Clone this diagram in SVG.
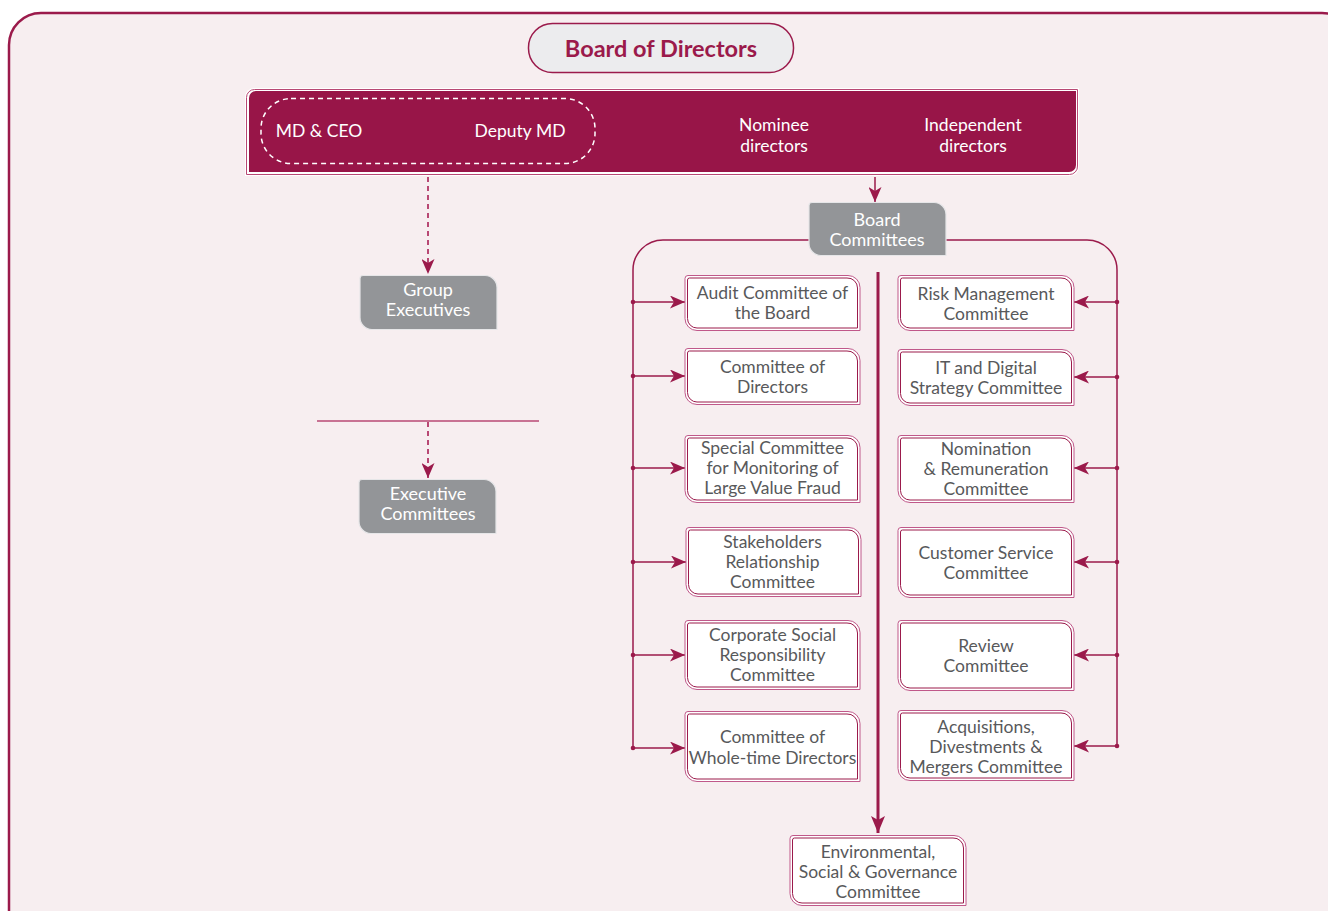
<svg xmlns="http://www.w3.org/2000/svg" width="1328" height="911" viewBox="0 0 1328 911">
<defs>
<style>
.frame{fill:#f7eef0;stroke:#9b1a4b;stroke-width:2.5}
.bx-o{fill:#fff;stroke:#c0588a;stroke-width:1}
.bx-i{fill:none;stroke:#9b1a4b;stroke-width:1}
.gb{fill:#939598;stroke:#e6e6e8;stroke-width:1.2}
.t{font-family:Lato,"Liberation Sans",sans-serif;font-size:17.5px;fill:#58595b;text-anchor:middle}
.tw{font-family:Lato,"Liberation Sans",sans-serif;font-size:17.5px;fill:#ffffff;text-anchor:middle}
.tg{font-family:Lato,"Liberation Sans",sans-serif;font-size:18px;fill:#ffffff;text-anchor:middle}
.tb{font-family:Lato,"Liberation Sans",sans-serif;font-size:23.5px;font-weight:bold;fill:#9b1a4b;text-anchor:middle}
.ln{fill:none;stroke:#9b1a4b;stroke-width:1.5}
.dash{fill:none;stroke:#b84874;stroke-width:2;stroke-dasharray:5 4}
.dot{fill:#9b1a4b}
</style>
<marker id="ah" viewBox="0 0 15 13" refX="15" refY="6.5" markerWidth="15" markerHeight="13" markerUnits="userSpaceOnUse" orient="auto">
<path d="M0,0 L15,6.5 L0,13 L4,6.5 Z" fill="#9b1a4b"/>
</marker>
<marker id="ahv" viewBox="0 0 17 14" refX="17" refY="7" markerWidth="17" markerHeight="14" markerUnits="userSpaceOnUse" orient="auto">
<path d="M0,0 L17,7 L0,14 L4,7 Z" fill="#9b1a4b"/>
</marker>
</defs>
<rect x="0" y="0" width="1328" height="911" fill="#ffffff"/>
<rect class="frame" x="9" y="13" width="1345" height="930" rx="32"/>

<g id="board">
<rect x="528.5" y="23.5" width="265" height="49" rx="24" fill="#ececee" stroke="#9b1a4b" stroke-width="1.5"/>
<text class="tb" x="661" y="57">Board of Directors</text>
</g>

<g id="directors-band">
<path d="M255,88 H1079 V167 A9 9 0 0 1 1070,176 H245 V97 A9 9 0 0 1 254,88 Z" fill="#ffffff"/>
<path d="M255,89.5 H1077.5 V166 A8 8 0 0 1 1069.5,174.5 H246.5 V97.5 A8 8 0 0 1 254.5,89.5 Z" fill="none" stroke="#b84874" stroke-width="1"/>
<path d="M256,91 H1076 V165 A7 7 0 0 1 1069,172 H249 V98 A7 7 0 0 1 256,91 Z" fill="#981548"/>
<rect x="261" y="98.5" width="334" height="65" rx="30" fill="none" stroke="#ffffff" stroke-width="1.5" stroke-dasharray="5 4"/>
<text class="tw" x="319" y="137">MD &amp; CEO</text>
<text class="tw" x="520" y="137">Deputy MD</text>
<text class="tw" x="774" y="131">Nominee</text>
<text class="tw" x="774" y="152">directors</text>
<text class="tw" x="973" y="131">Independent</text>
<text class="tw" x="973" y="152">directors</text>
</g>

<g id="connectors">
<path class="dash" d="M428,177 V274" marker-end="url(#ah)"/>
<line x1="317" y1="421" x2="539" y2="421" stroke="#b84874" stroke-width="1.5"/>
<path class="dash" d="M428,422 V478" marker-end="url(#ah)"/>
<path class="ln" d="M875,177 V202" marker-end="url(#ah)"/>
<path class="ln" d="M809,240 H663 A30 30 0 0 0 633,270 V749"/>
<path class="ln" d="M946,240 H1087 A30 30 0 0 1 1117,270 V746"/>
<path d="M878,272 V833" fill="none" stroke="#9b1a4b" stroke-width="3" marker-end="url(#ahv)"/>
<path class="ln" d="M633,302 H685" marker-end="url(#ah)"/>
<path class="ln" d="M633,376 H685" marker-end="url(#ah)"/>
<path class="ln" d="M633,468 H685" marker-end="url(#ah)"/>
<path class="ln" d="M633,562 H686" marker-end="url(#ah)"/>
<path class="ln" d="M633,655 H685" marker-end="url(#ah)"/>
<path class="ln" d="M633,748 H685" marker-end="url(#ah)"/>
<path class="ln" d="M1117,302 H1074" marker-end="url(#ah)"/>
<path class="ln" d="M1117,377 H1074" marker-end="url(#ah)"/>
<path class="ln" d="M1117,468 H1074" marker-end="url(#ah)"/>
<path class="ln" d="M1117,562 H1074" marker-end="url(#ah)"/>
<path class="ln" d="M1117,655 H1074" marker-end="url(#ah)"/>
<path class="ln" d="M1117,746 H1074" marker-end="url(#ah)"/>
<circle class="dot" cx="633" cy="302" r="2.3"/>
<circle class="dot" cx="633" cy="376" r="2.3"/>
<circle class="dot" cx="633" cy="468" r="2.3"/>
<circle class="dot" cx="633" cy="562" r="2.3"/>
<circle class="dot" cx="633" cy="655" r="2.3"/>
<circle class="dot" cx="633" cy="748" r="2.3"/>
<circle class="dot" cx="1117" cy="302" r="2.3"/>
<circle class="dot" cx="1117" cy="377" r="2.3"/>
<circle class="dot" cx="1117" cy="468" r="2.3"/>
<circle class="dot" cx="1117" cy="562" r="2.3"/>
<circle class="dot" cx="1117" cy="655" r="2.3"/>
<circle class="dot" cx="1117" cy="746" r="2.3"/>
</g>

<g id="board-committees">
<path class="gb" d="M812,202.5 H934 A12 12 0 0 1 946,214.5 V255.5 H821 A12 12 0 0 1 809,243.5 V205.5 A3 3 0 0 1 812,202.5 Z"/>
<text class="tg" x="877" y="226">Board</text>
<text class="tg" x="877" y="246">Committees</text>
</g>

<g id="group-executives">
<path class="gb" d="M363,275.5 H485 A12 12 0 0 1 497,287.5 V329.5 H372 A12 12 0 0 1 360,317.5 V278.5 A3 3 0 0 1 363,275.5 Z"/>
<text class="tg" x="428" y="296">Group</text>
<text class="tg" x="428" y="316">Executives</text>
</g>

<g id="executive-committees">
<path class="gb" d="M362,479.5 H484 A12 12 0 0 1 496,491.5 V533.5 H371 A12 12 0 0 1 359,521.5 V482.5 A3 3 0 0 1 362,479.5 Z"/>
<text class="tg" x="428" y="500">Executive</text>
<text class="tg" x="428" y="520">Committees</text>
</g>

<g id="audit">
<path class="bx-o" d="M688,275.5 H848 A12 12 0 0 1 860,287.5 V330.5 H697 A12 12 0 0 1 685,318.5 V278.5 A3 3 0 0 1 688,275.5 Z"/>
<path class="bx-i" d="M689.5,278 H847 A10 10 0 0 1 857.5,288 V328 H697 A9.5 9.5 0 0 1 687.5,318.5 V280 A2 2 0 0 1 689.5,278 Z"/>
<text class="t" x="772.5" y="299">Audit Committee of</text>
<text class="t" x="772.5" y="319">the Board</text>
</g>

<g id="committee-of-directors">
<path class="bx-o" d="M688,348.5 H848 A12 12 0 0 1 860,360.5 V404.5 H697 A12 12 0 0 1 685,392.5 V351.5 A3 3 0 0 1 688,348.5 Z"/>
<path class="bx-i" d="M689.5,351 H847 A10 10 0 0 1 857.5,361 V402 H697 A9.5 9.5 0 0 1 687.5,392.5 V353 A2 2 0 0 1 689.5,351 Z"/>
<text class="t" x="772.5" y="373">Committee of</text>
<text class="t" x="772.5" y="393">Directors</text>
</g>

<g id="special-committee">
<path class="bx-o" d="M688,435.5 H848 A12 12 0 0 1 860,447.5 V502.5 H697 A12 12 0 0 1 685,490.5 V438.5 A3 3 0 0 1 688,435.5 Z"/>
<path class="bx-i" d="M689.5,438 H847 A10 10 0 0 1 857.5,448 V500 H697 A9.5 9.5 0 0 1 687.5,490.5 V440 A2 2 0 0 1 689.5,438 Z"/>
<text class="t" x="772.5" y="454">Special Committee</text>
<text class="t" x="772.5" y="474">for Monitoring of</text>
<text class="t" x="772.5" y="494">Large Value Fraud</text>
</g>

<g id="stakeholders">
<path class="bx-o" d="M689,527.5 H849 A12 12 0 0 1 861,539.5 V596.5 H698 A12 12 0 0 1 686,584.5 V530.5 A3 3 0 0 1 689,527.5 Z"/>
<path class="bx-i" d="M690.5,530 H848 A10 10 0 0 1 858.5,540 V594 H698 A9.5 9.5 0 0 1 688.5,584.5 V532 A2 2 0 0 1 690.5,530 Z"/>
<text class="t" x="772.5" y="548">Stakeholders</text>
<text class="t" x="772.5" y="568">Relationship</text>
<text class="t" x="772.5" y="588">Committee</text>
</g>

<g id="csr">
<path class="bx-o" d="M688,620.5 H848 A12 12 0 0 1 860,632.5 V689.5 H697 A12 12 0 0 1 685,677.5 V623.5 A3 3 0 0 1 688,620.5 Z"/>
<path class="bx-i" d="M689.5,623 H847 A10 10 0 0 1 857.5,633 V687 H697 A9.5 9.5 0 0 1 687.5,677.5 V625 A2 2 0 0 1 689.5,623 Z"/>
<text class="t" x="772.5" y="641">Corporate Social</text>
<text class="t" x="772.5" y="661">Responsibility</text>
<text class="t" x="772.5" y="681">Committee</text>
</g>

<g id="whole-time">
<path class="bx-o" d="M688,711.5 H848 A12 12 0 0 1 860,723.5 V781.5 H697 A12 12 0 0 1 685,769.5 V714.5 A3 3 0 0 1 688,711.5 Z"/>
<path class="bx-i" d="M689.5,714 H847 A10 10 0 0 1 857.5,724 V779 H697 A9.5 9.5 0 0 1 687.5,769.5 V716 A2 2 0 0 1 689.5,714 Z"/>
<text class="t" x="772.5" y="743">Committee of</text>
<text class="t" x="772.5" y="764">Whole-time Directors</text>
</g>

<g id="risk">
<path class="bx-o" d="M901,275.5 H1062 A12 12 0 0 1 1074,287.5 V330.5 H910 A12 12 0 0 1 898,318.5 V278.5 A3 3 0 0 1 901,275.5 Z"/>
<path class="bx-i" d="M902.5,278 H1061 A10 10 0 0 1 1071.5,288 V328 H910 A9.5 9.5 0 0 1 900.5,318.5 V280 A2 2 0 0 1 902.5,278 Z"/>
<text class="t" x="986" y="300">Risk Management</text>
<text class="t" x="986" y="320">Committee</text>
</g>

<g id="it-digital">
<path class="bx-o" d="M901,349.5 H1062 A12 12 0 0 1 1074,361.5 V405.5 H910 A12 12 0 0 1 898,393.5 V352.5 A3 3 0 0 1 901,349.5 Z"/>
<path class="bx-i" d="M902.5,352 H1061 A10 10 0 0 1 1071.5,362 V403 H910 A9.5 9.5 0 0 1 900.5,393.5 V354 A2 2 0 0 1 902.5,352 Z"/>
<text class="t" x="986" y="374">IT and Digital</text>
<text class="t" x="986" y="394">Strategy Committee</text>
</g>

<g id="nomination">
<path class="bx-o" d="M901,435.5 H1062 A12 12 0 0 1 1074,447.5 V502.5 H910 A12 12 0 0 1 898,490.5 V438.5 A3 3 0 0 1 901,435.5 Z"/>
<path class="bx-i" d="M902.5,438 H1061 A10 10 0 0 1 1071.5,448 V500 H910 A9.5 9.5 0 0 1 900.5,490.5 V440 A2 2 0 0 1 902.5,438 Z"/>
<text class="t" x="986" y="455">Nomination</text>
<text class="t" x="986" y="475">&amp; Remuneration</text>
<text class="t" x="986" y="495">Committee</text>
</g>

<g id="customer-service">
<path class="bx-o" d="M901,527.5 H1062 A12 12 0 0 1 1074,539.5 V597.5 H910 A12 12 0 0 1 898,585.5 V530.5 A3 3 0 0 1 901,527.5 Z"/>
<path class="bx-i" d="M902.5,530 H1061 A10 10 0 0 1 1071.5,540 V595 H910 A9.5 9.5 0 0 1 900.5,585.5 V532 A2 2 0 0 1 902.5,530 Z"/>
<text class="t" x="986" y="559">Customer Service</text>
<text class="t" x="986" y="579">Committee</text>
</g>

<g id="review">
<path class="bx-o" d="M901,620.5 H1062 A12 12 0 0 1 1074,632.5 V690.5 H910 A12 12 0 0 1 898,678.5 V623.5 A3 3 0 0 1 901,620.5 Z"/>
<path class="bx-i" d="M902.5,623 H1061 A10 10 0 0 1 1071.5,633 V688 H910 A9.5 9.5 0 0 1 900.5,678.5 V625 A2 2 0 0 1 902.5,623 Z"/>
<text class="t" x="986" y="652">Review</text>
<text class="t" x="986" y="672">Committee</text>
</g>

<g id="acquisitions">
<path class="bx-o" d="M901,710.5 H1062 A12 12 0 0 1 1074,722.5 V780.5 H910 A12 12 0 0 1 898,768.5 V713.5 A3 3 0 0 1 901,710.5 Z"/>
<path class="bx-i" d="M902.5,713 H1061 A10 10 0 0 1 1071.5,723 V778 H910 A9.5 9.5 0 0 1 900.5,768.5 V715 A2 2 0 0 1 902.5,713 Z"/>
<text class="t" x="986" y="733">Acquisitions,</text>
<text class="t" x="986" y="753">Divestments &amp;</text>
<text class="t" x="986" y="773">Mergers Committee</text>
</g>

<g id="esg">
<path class="bx-o" d="M793,835.5 H954 A12 12 0 0 1 966,847.5 V905.5 H802 A12 12 0 0 1 790,893.5 V838.5 A3 3 0 0 1 793,835.5 Z"/>
<path class="bx-i" d="M794.5,838 H953 A10 10 0 0 1 963.5,848 V903 H802 A9.5 9.5 0 0 1 792.5,893.5 V840 A2 2 0 0 1 794.5,838 Z"/>
<text class="t" x="878" y="858">Environmental,</text>
<text class="t" x="878" y="878">Social &amp; Governance</text>
<text class="t" x="878" y="898">Committee</text>
</g>
</svg>
